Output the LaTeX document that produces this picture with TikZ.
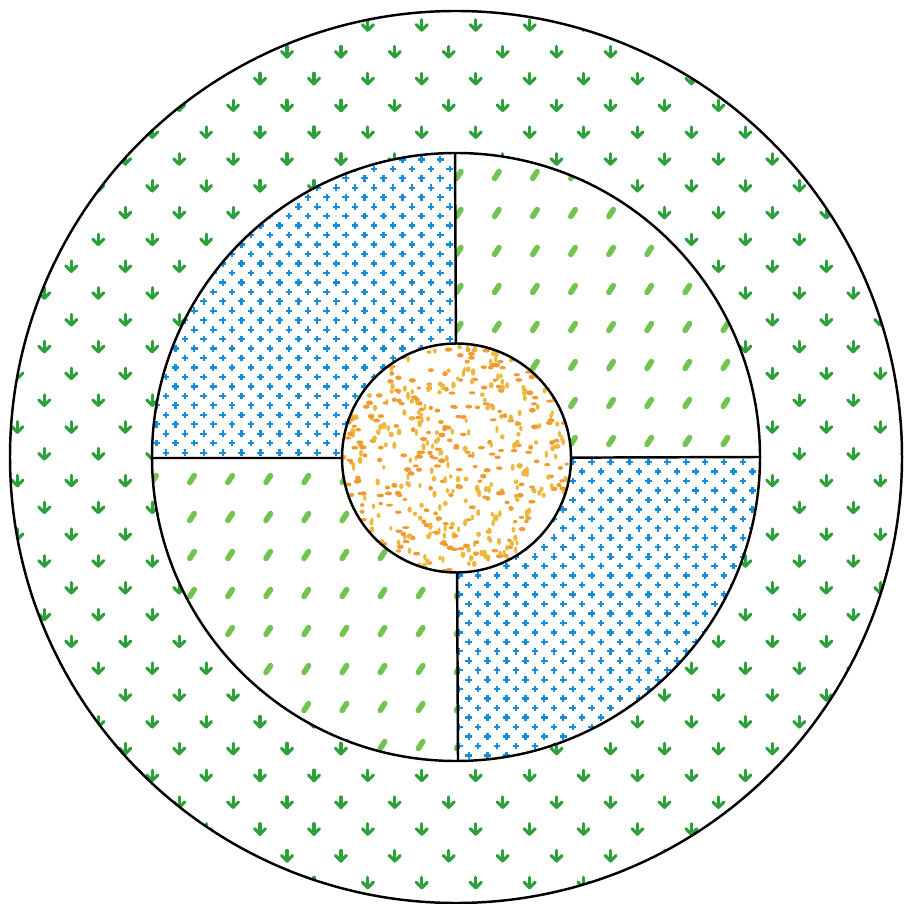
\documentclass[tikz,border=0pt]{standalone}
\usepackage{tikz}
\usetikzlibrary{calc}
\definecolor{arrowgreen}{RGB}{45,160,60}
\definecolor{leafgreen}{RGB}{115,195,80}
\definecolor{crossblue}{RGB}{25,140,215}
\definecolor{sandorange}{RGB}{240,155,50}
\definecolor{sandyellow}{RGB}{236,185,60}
\tikzset{
    rim/.style={
        draw=black,
        line width=0.7pt
    },
    downarrow/.style={
        draw=arrowgreen,
        line width=0.9pt,
        line cap=round,
        line join=round
    },
    cross/.style={draw=crossblue, line width=0.65pt},
    leaf/.style={draw=leafgreen, line width=1.6pt, line cap=round},
    grainA/.style={fill=sandorange},
    grainB/.style={fill=sandyellow}
}

\begin{document}
\begin{tikzpicture}[x=0.1mm, y=-0.1mm]
\useasboundingbox (0,0) rectangle (904,904);
\coordinate (c) at (456,457);
\coordinate (ic) at (456.5,458);
\coordinate (top) at (455,153);
\coordinate (bot) at (458,761);
\coordinate (lft) at (152,458);
\coordinate (rgt) at (761,457);

% outer ring
\begin{scope}
\clip (c) circle (44.6mm);
\foreach \m in {-2,...,32}
  \foreach \j in {-6,...,12}{
    \pgfmathsetmacro\x{287+26.96*(2*\j+mod(\m+10,2))}
    \pgfmathsetmacro\y{52+26.8*\m}
    \draw[downarrow] (\x,\y-5.5) -- (\x,\y+5);
    \draw[downarrow] (\x-5.5,\y-0.5) -- (\x,\y+5) -- (\x+5.5,\y-0.5);
  }
\end{scope}
\fill[white] (c) circle (30.4mm);

% crosses
\begin{scope}
\clip (c) circle (30.4mm);
\clip (140,140) rectangle (455,458) (458,457) rectangle (770,770);
\foreach \m in {-12,...,55}
  \foreach \j in {-7,...,26}{
    \pgfmathsetmacro\x{270+9.46*(2*\j+mod(\m+20,2))}
    \pgfmathsetmacro\y{254+9.46*\m}
    \draw[cross] (\x-3.3,\y) -- (\x+3.3,\y) (\x,\y-3.3) -- (\x,\y+3.3);
  }
\end{scope}

% leaves
\begin{scope}
\clip (c) circle (30.4mm);
\clip (455,140) rectangle (770,457) (140,458) rectangle (458,770);
\foreach \k in {-1,...,15}
  \foreach \m in {-1,...,16}{
    \pgfmathsetmacro\x{192+38.1*\k}
    \pgfmathsetmacro\y{175+38*\m}
    \draw[leaf] (\x-2.2,\y+3.4) -- (\x+2.2,\y-3.4);
  }
\end{scope}

\draw[rim] (top) -- (ic) -- (bot);
\draw[rim] (lft) -- (ic) -- (rgt);

% core
\fill[white] (ic) circle (11.45mm);
\begin{scope}
\clip (ic) circle (11.45mm);
\pgfmathsetseed{12}
\foreach \i in {1,...,480}{
  \pgfmathsetmacro\rr{114*sqrt(rnd)}
  \pgfmathsetmacro\aa{360*rnd}
  \pgfmathsetmacro\bw{2.2+1.6*rnd}
  \pgfmathsetmacro\bh{1.5+1.0*rnd}
  \ifodd\i
    \fill[grainA] ($(ic)+(\aa:\rr)$) ellipse [x radius=\bw, y radius=\bh];
  \else
    \fill[grainB] ($(ic)+(\aa:\rr)$) ellipse [x radius=\bh, y radius=\bw];
  \fi
}
\end{scope}

\draw[rim] (c) circle (44.6mm);
\draw[rim] (c) circle (30.4mm);
\draw[rim] (ic) circle (11.45mm);
\end{tikzpicture}
\end{document}
